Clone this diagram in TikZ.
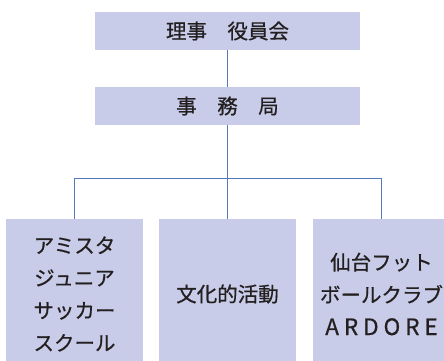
\documentclass[tikz,border=0pt]{standalone}
\usepackage{fontspec}
\setmainfont{Noto Sans CJK JP}
\newfontfamily\jpfont[FakeBold=0.6]{Noto Sans CJK JP}
\newfontfamily\ardorefont[LetterSpace=22,FakeBold=0.6]{Noto Sans CJK JP}
\definecolor{boxfill}{RGB}{200,204,232}
\definecolor{linecol}{RGB}{88,120,190}
\definecolor{txt}{RGB}{35,31,32}
\begin{document}
\begin{tikzpicture}[x=1pt,y=-1pt,
  orgbox/.style={fill=boxfill, draw=none, inner sep=0pt, text=txt, align=center,
    font=\jpfont\fontsize{20.5}{32.5}\selectfont},
  topbox/.style={orgbox, minimum width=265pt, minimum height=38pt},
  unitbox/.style={orgbox, minimum width=137pt, minimum height=150pt},
  mainline/.style={draw=linecol, line width=1.4pt},
  branchline/.style={draw=linecol, line width=1pt}]
\useasboundingbox (0,0) rectangle (444,361);
\clip (0,0) rectangle (444,361);
\node[topbox] (board) at (227.5,31) {理事　役員会};
\node[topbox] (office) at (227.5,106) {事　務　局};
\node[unitbox] (amista) at (74.5,294) {アミスタ\\ジュニア\\サッカー\\スクール};
\node[unitbox] (culture) at (227.5,294) {文化的活動};
\node[unitbox] (ardore) at (381.5,294) {仙台フット\\ボールクラブ\\{\ardorefont\fontsize{22.5}{32.5}\selectfont ARDORE}};
\coordinate (hub) at (227.5,178.3);
\draw[mainline] (board.south) -- (office.north);
\draw[mainline] (office.south) -- (culture.north);
\draw[branchline] (amista.north) |- (hub) -| (ardore.north);
\end{tikzpicture}
\end{document}
